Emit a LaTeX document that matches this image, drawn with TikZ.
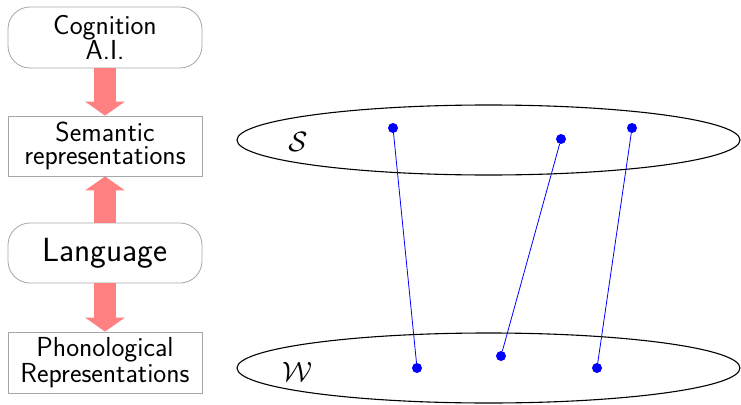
\documentclass[tikz,border=0pt]{standalone}
\usetikzlibrary{arrows.meta,shapes.geometric}
\begin{document}
\begin{tikzpicture}[x=1pt,y=-1pt,
  txt/.style={font=\sffamily\fontsize{27.5}{23.5}\selectfont, align=center, text=black},
  roundbox/.style={txt, draw=black!35, line width=0.8pt, rounded corners=22pt, minimum width=194pt, inner sep=0pt},
  sqbox/.style={txt, draw=black!35, line width=0.8pt, minimum width=194pt, inner sep=0pt},
  bigarrow/.style={draw=red!50, line width=22pt, -{Triangle[length=14pt,width=39pt]}},
  dot/.style={circle, fill=blue, inner sep=0pt, minimum size=10pt},
  link/.style={draw=blue, line width=0.8pt},
  setell/.style={draw, ellipse, line width=1.1pt, minimum width=503pt, minimum height=70pt, inner sep=0pt},
  setlab/.style={inner sep=0pt}
]
\useasboundingbox (0,0) rectangle (741,404);
\node[roundbox, minimum height=61pt] (cog) at (105,37.5) {Cognition\\A.I.};
\node[sqbox, minimum height=60pt] (sem) at (105,146) {Semantic\\representations};
\node[roundbox, minimum height=60pt, font=\sffamily\fontsize{33.5}{36}\selectfont] (lang) at (105,253) {Language};
\node[sqbox, minimum height=61pt] (phon) at (105,362.5) {Phonological\\Representations};
\draw[bigarrow] (cog.south) -- (sem.north);
\draw[bigarrow] (lang.north) -- (sem.south);
\draw[bigarrow] (lang.south) -- (phon.north);

\node[setell] (S) at (488.5,140) {};
\node[setell] (W) at (488.5,368) {};
\node[setlab] (slab) at (298,142) {\scalebox{2.8}{$\mathcal{S}$}};
\node[setlab] (wlab) at (297,372) {\scalebox{2.8}{$\mathcal{W}$}};

\node[dot] (s1) at (393,128) {};
\node[dot] (s2) at (561,139) {};
\node[dot] (s3) at (632,128) {};
\node[dot] (w1) at (417,368) {};
\node[dot] (w2) at (501,356) {};
\node[dot] (w3) at (597,368) {};
\draw[link] (s1) -- (w1);
\draw[link] (s2) -- (w2);
\draw[link] (s3) -- (w3);
\end{tikzpicture}
\end{document}
